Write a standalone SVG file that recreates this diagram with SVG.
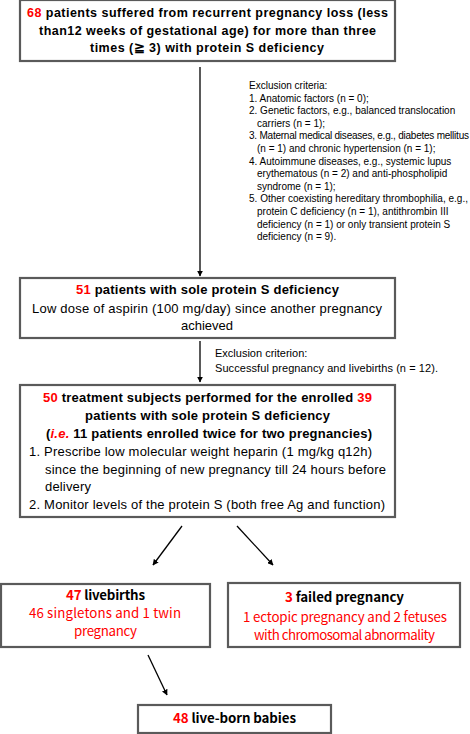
<svg xmlns="http://www.w3.org/2000/svg" width="470" height="734" viewBox="0 0 470 734">
<defs>
<marker id="ah" viewBox="0 0 10 10" refX="9" refY="5" markerWidth="6" markerHeight="6" markerUnits="userSpaceOnUse" orient="auto">
<path d="M0,0 L10,5 L0,10 Z" fill="#000"/>
</marker>
<style>
.box{fill:#fff;stroke:#5a5a5a;stroke-width:2.2}
.t{font-family:"Liberation Sans",Arial,sans-serif;fill:#000}
.b{font-weight:bold}
.r{fill:#ff0000}
.k{font-family:"Noto Sans CJK KR","Noto Sans",sans-serif;fill:#000}
.ln{stroke:#000;stroke-width:1.3;fill:none;marker-end:url(#ah)}
</style>
</defs>
<rect width="470" height="734" fill="#fff"/>
<g id="connectors">
<line class="ln" x1="200" y1="67" x2="200" y2="276"/>
<line class="ln" x1="200" y1="341" x2="200" y2="382"/>
<line class="ln" x1="182" y1="526" x2="153" y2="565"/>
<line class="ln" x1="237" y1="526" x2="273" y2="565"/>
<line class="ln" x1="148" y1="655" x2="167" y2="695"/>
</g>
<g id="excl1" class="t" font-size="10">
<text x="249" y="89">Exclusion criteria:</text>
<text x="249" y="101.6">1. Anatomic factors (n = 0);</text>
<text x="249" y="114.2">2. Genetic factors, e.g., balanced translocation</text>
<text x="257" y="126.8">carriers (n = 1);</text>
<text x="249" y="139.4" textLength="220">3. Maternal medical diseases, e.g., diabetes mellitus</text>
<text x="257" y="152">(n = 1) and chronic hypertension (n = 1);</text>
<text x="249" y="164.6">4. Autoimmune diseases, e.g., systemic lupus</text>
<text x="257" y="177.2">erythematous (n = 2) and anti-phospholipid</text>
<text x="257" y="189.8">syndrome (n = 1);</text>
<text x="249" y="202.4" textLength="219">5. Other coexisting hereditary thrombophilia, e.g.,</text>
<text x="257" y="215">protein C deficiency (n = 1), antithrombin III</text>
<text x="257" y="227.6">deficiency (n = 1) or only transient protein S</text>
<text x="257" y="240.2">deficiency (n = 9).</text>
</g>
<g id="excl2" class="t" font-size="11">
<text x="215" y="357">Exclusion criterion:</text>
<text x="215" y="372" textLength="223">Successful pregnancy and livebirths (n = 12).</text>
</g>
<g id="n1">
<rect class="box" x="20" y="0" width="375" height="61"/>
<g class="t b" font-size="12.5">
<text x="27" y="17" textLength="361"><tspan class="r">68</tspan> patients suffered from recurrent pregnancy loss (less</text>
<text x="39" y="34.5" textLength="337">than12 weeks of gestational age) for more than three</text>
<text x="90" y="52" textLength="234">times (≧ 3) with protein S deficiency</text>
</g>
</g>
<g id="n2">
<rect class="box" x="20" y="278" width="375" height="60"/>
<g class="t" font-size="13">
<text class="b" x="76" y="294" textLength="263"><tspan class="r">51</tspan> patients with sole protein S deficiency</text>
<text x="32" y="313" textLength="350">Low dose of aspirin (100 mg/day) since another pregnancy</text>
<text x="181" y="330" textLength="52">achieved</text>
</g>
</g>
<g id="n3">
<rect class="box" x="20" y="385" width="375" height="132"/>
<g class="t b" font-size="13">
<text x="43" y="402" textLength="329"><tspan class="r">50</tspan> treatment subjects performed for the enrolled <tspan class="r">39</tspan></text>
<text x="85" y="420" textLength="245">patients with sole protein S deficiency</text>
<text x="46" y="438" textLength="326">(<tspan class="r" font-style="italic">i.e.</tspan> 11 patients enrolled twice for two pregnancies)</text>
</g>
<g class="t" font-size="13">
<text x="29" y="456" textLength="343">1. Prescribe low molecular weight heparin (1 mg/kg q12h)</text>
<text x="45" y="474" textLength="341">since the beginning of new pregnancy till 24 hours before</text>
<text x="45" y="491" textLength="46">delivery</text>
<text x="29" y="509" textLength="356">2. Monitor levels of the protein S (both free Ag and function)</text>
</g>
</g>
<g id="n4">
<rect class="box" x="1" y="584" width="209" height="63"/>
<g class="k" font-size="13.3">
<text x="66" y="600" font-weight="bold" textLength="79"><tspan class="r">47</tspan> livebirths</text>
<text class="r" x="29" y="618" textLength="152">46 singletons and 1 twin</text>
<text class="r" x="74" y="636" textLength="63">pregnancy</text>
</g>
</g>
<g id="n5">
<rect class="box" x="228" y="583" width="232" height="64"/>
<g class="k" font-size="13.3">
<text x="285" y="602" font-weight="bold" textLength="119"><tspan class="r">3</tspan> failed pregnancy</text>
<text class="r" x="243" y="622" textLength="204">1 ectopic pregnancy and 2 fetuses</text>
<text class="r" x="254" y="640" textLength="181">with chromosomal abnormality</text>
</g>
</g>
<g id="n6">
<rect class="box" x="138" y="705" width="193" height="28"/>
<text class="k" x="173" y="723" font-size="13.3" font-weight="bold" textLength="123"><tspan class="r">48</tspan> live-born babies</text>
</g>
</svg>
